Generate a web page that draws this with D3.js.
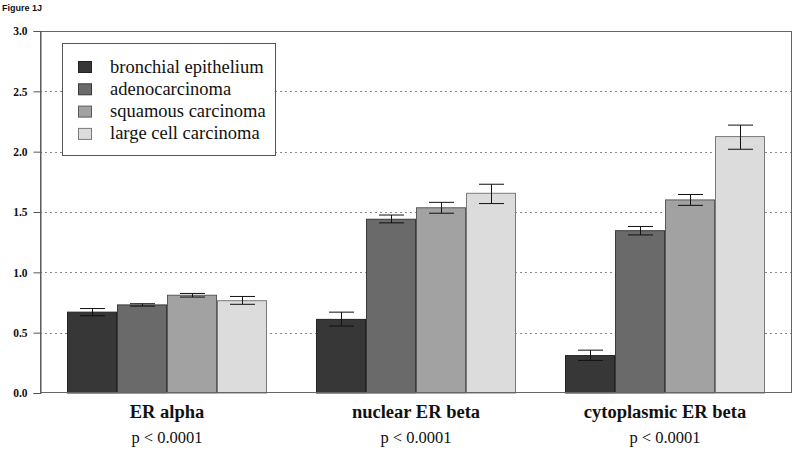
<!DOCTYPE html>
<html><head><meta charset="utf-8">
<script src="https://cdn.jsdelivr.net/npm/d3@7"></script>
<style>body{margin:0;background:#fff}svg{display:block}
.serif{font-family:'Liberation Serif','Times New Roman',Times,serif}
.sans{font-family:'Liberation Sans',Arial,Helvetica,sans-serif}
</style>
</head><body>
<svg id="c" width="800" height="452"></svg>
<script>
const categories = ["ER alpha", "nuclear ER beta", "cytoplasmic ER beta"];
const pvalues = ["p < 0.0001", "p < 0.0001", "p < 0.0001"];
const seriesNames = ["bronchial epithelium", "adenocarcinoma", "squamous carcinoma", "large cell carcinoma"];
const seriesColors = ["#373737", "#6a6a6a", "#a2a2a2", "#dcdcdc"];
const seriesStroke = ["#222222", "#3a3a3a", "#5a5a5a", "#7a7a7a"];
// values[series][category]
const means = [
  [0.67, 0.61, 0.31],
  [0.73, 1.44, 1.345],
  [0.81, 1.535, 1.60],
  [0.765, 1.655, 2.125]
];
const lower = [
  [0.64, 0.555, 0.27],
  [0.72, 1.41, 1.31],
  [0.795, 1.49, 1.555],
  [0.735, 1.57, 2.02]
];
const upper = [
  [0.70, 0.67, 0.355],
  [0.74, 1.475, 1.38],
  [0.825, 1.58, 1.645],
  [0.80, 1.73, 2.22]
];
const yTicks = [0, 0.5, 1.0, 1.5, 2.0, 2.5, 3.0];

const svg = d3.select("#c");
const L = 40, R = 792, T = 31, B = 393;
const y = d3.scaleLinear().domain([0, 3]).range([B, T]);
const x0 = d3.scaleBand().domain(categories).range([L + 27, R - 27]).paddingInner(49/249).paddingOuter(0);
const x1 = d3.scaleBand().domain(d3.range(seriesNames.length)).range([0, x0.bandwidth()]).padding(0);

svg.append("text").attr("class", "sans").attr("x", 2).attr("y", 11)
  .attr("font-weight", "bold").attr("font-size", 9).attr("fill", "#111").text("Figure 1J");

// gridlines
svg.append("g").selectAll("line").data(yTicks.filter(d => d > 0 && d < 3)).join("line")
  .attr("x1", L).attr("x2", R).attr("y1", d => Math.round(y(d)) + 0.5).attr("y2", d => Math.round(y(d)) + 0.5)
  .attr("stroke", "#888").attr("stroke-dasharray", "2,3").attr("stroke-width", 1);

// bars
const gb = svg.append("g");
categories.forEach((c, ci) => {
  seriesNames.forEach((s, si) => {
    const bx = x0(c) + x1(si);
    gb.append("rect").attr("x", bx + 0.5).attr("y", y(means[si][ci]))
      .attr("width", x1.bandwidth() - 1).attr("height", B - y(means[si][ci]))
      .attr("fill", seriesColors[si]).attr("stroke", seriesStroke[si]).attr("stroke-width", 1);
    const cx = Math.round(bx + x1.bandwidth() / 2) + 0.5;
    const g = gb.append("g").attr("stroke", "#111").attr("stroke-width", 1);
    g.append("line").attr("x1", cx).attr("x2", cx).attr("y1", y(upper[si][ci])).attr("y2", y(lower[si][ci]));
    g.append("line").attr("x1", cx - 12.5).attr("x2", cx + 12.5).attr("y1", y(upper[si][ci])).attr("y2", y(upper[si][ci]));
    g.append("line").attr("x1", cx - 12.5).attr("x2", cx + 12.5).attr("y1", y(lower[si][ci])).attr("y2", y(lower[si][ci]));
  });
});

// frame
svg.append("rect").attr("x", L + 0.5).attr("y", T + 0.5).attr("width", R - L - 1).attr("height", B - T - 1)
  .attr("fill", "none").attr("stroke", "#666").attr("stroke-width", 1);

// y axis
const yAxis = d3.axisLeft(y).tickValues(yTicks).tickFormat(d3.format(".1f")).tickSize(7).tickPadding(6);
const ga = svg.append("g").attr("transform", `translate(${L + 0.5},0)`).call(yAxis);
ga.attr("font-family", null).attr("class", "serif");
ga.select(".domain").attr("stroke", "#555");
ga.selectAll(".tick line").attr("stroke", "#555");
ga.selectAll(".tick text").attr("class", "serif")
  .attr("font-weight", "bold").attr("font-size", 11.5).attr("fill", "#111");

// category labels
svg.append("g").selectAll("text").data(categories).join("text").attr("class", "serif")
  .attr("x", d => x0(d) + x0.bandwidth() / 2).attr("y", 418).attr("text-anchor", "middle")
  .attr("font-weight", "bold")
  .attr("font-size", 18.5).attr("fill", "#111").text(d => d);
svg.append("g").selectAll("text").data(categories).join("text").attr("class", "serif")
  .attr("x", d => x0(d) + x0.bandwidth() / 2).attr("y", 443).attr("text-anchor", "middle")
  .attr("font-size", 16.5).attr("fill", "#111").text((d, i) => pvalues[i]);

// legend
const lg = svg.append("g");
lg.append("rect").attr("x", 62.5).attr("y", 43.5).attr("width", 213).attr("height", 112)
  .attr("fill", "#fff").attr("stroke", "#555").attr("stroke-width", 1);
seriesNames.forEach((s, i) => {
  const cy = 67 + i * 22.3;
  lg.append("rect").attr("x", 78.5).attr("y", cy - 5.5).attr("width", 13).attr("height", 11)
    .attr("fill", seriesColors[i]).attr("stroke", seriesStroke[i]);
  lg.append("text").attr("class", "serif").attr("x", 110).attr("y", cy + 5.5)
    .attr("font-size", 18.5).attr("fill", "#111").text(s);
});
</script>
</body></html>
